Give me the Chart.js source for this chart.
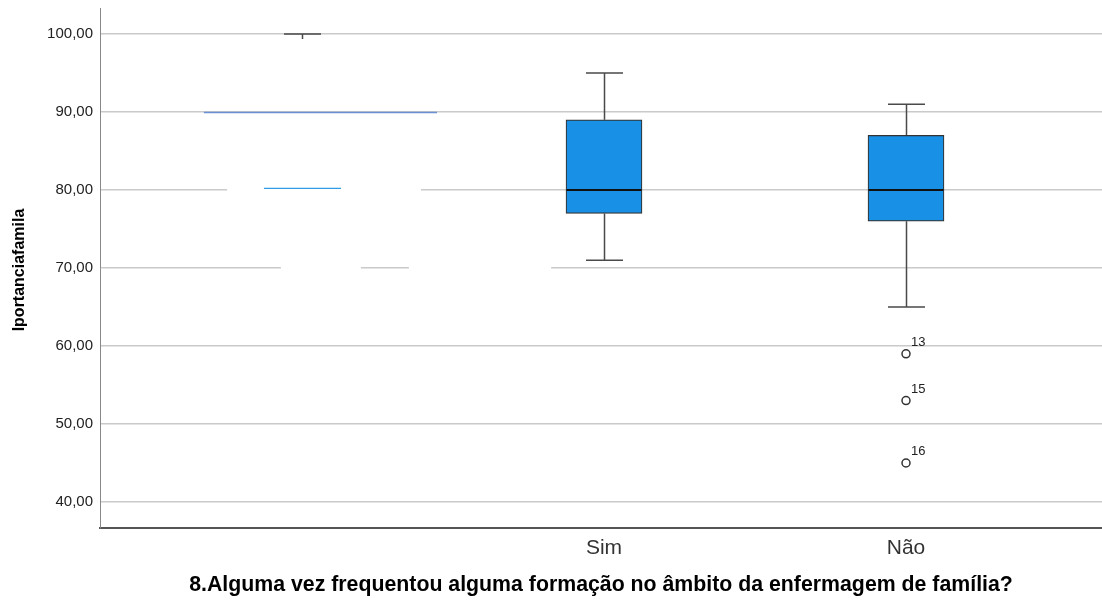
<!DOCTYPE html>
<html>
<head>
<meta charset="utf-8">
<script src="https://cdn.jsdelivr.net/npm/chart.js@4.4.1/dist/chart.umd.min.js"></script>
<style>
  html, body { margin: 0; padding: 0; background: #fff; }
  #wrap { width: 1102px; height: 601px; }
</style>
</head>
<body>
<div id="wrap"><canvas id="boxChart" width="1102" height="601"></canvas></div>
<script>
// categorias e estatísticas das caixas
const categories = ['', 'Sim', 'Não'];
const categoryPos = [1, 2, 3];
const whiskerLow = [null, 71, 65];
const q1 = [null, 77, 76];
const median = [null, 80, 80];
const q3 = [null, 89, 87];
const whiskerHigh = [100, 95, 91];

// outliers (Não)
const outlierGroup = [3, 3, 3];
const outlierValues = [59, 53, 45];
const outlierCases = ['13', '15', '16'];

// marcas soltas do primeiro grupo (valor y, de x, até x)
const fragY = [90, 80.25, 80, 70, 70];
const fragFrom = [0.675, 0.874, 0.752, 0.930, 1.354];
const fragTo = [1.447, 1.129, 1.394, 1.195, 1.825];

const yTicks = [40, 50, 60, 70, 80, 90, 100];
const yTitle = 'Iportanciafamila';
const xTitle = '8.Alguma vez frequentou alguma formação no âmbito da enfermagem de família?';

const fragStyle = [
    { color: '#6b8fd3', width: 1.5 },
    { color: '#2f9ce8', width: 1.5 },
    { color: '#ffffff', width: 3 },
    { color: '#ffffff', width: 3 },
    { color: '#ffffff', width: 3 }
];

const boxData = categoryPos.map((x, i) => q1[i] == null ? null : { x: x, y: [q1[i], q3[i]] }).filter(d => d);
const outlierData = outlierValues.map((v, i) => ({ x: outlierGroup[i], y: v }));

const boxPlugin = {
    id: 'boxExtras',
    beforeDatasetsDraw(chart) {
        const ctx = chart.ctx;
        const xs = chart.scales.x, ys = chart.scales.y;
        ctx.save();
        // fragmentos / falhas do 1º grupo
        fragY.forEach((v, i) => {
            ctx.strokeStyle = fragStyle[i].color;
            ctx.lineWidth = fragStyle[i].width;
            ctx.beginPath();
            const y = Math.round(ys.getPixelForValue(v)) + 0.5;
            ctx.moveTo(xs.getPixelForValue(fragFrom[i]), y);
            ctx.lineTo(xs.getPixelForValue(fragTo[i]), y);
            ctx.stroke();
        });
        // bigodes
        ctx.strokeStyle = '#4a4a4a';
        ctx.lineWidth = 1.5;
        categoryPos.forEach((x, i) => {
            const px = Math.round(xs.getPixelForValue(x)) + 0.5;
            const half = 18.5;
            const hi = ys.getPixelForValue(whiskerHigh[i]);
            ctx.beginPath();
            ctx.moveTo(px - half, hi);
            ctx.lineTo(px + half, hi);
            if (q3[i] != null) {
                ctx.moveTo(px, hi);
                ctx.lineTo(px, ys.getPixelForValue(q3[i]));
                const lo = ys.getPixelForValue(whiskerLow[i]);
                ctx.moveTo(px, ys.getPixelForValue(q1[i]));
                ctx.lineTo(px, lo);
                ctx.moveTo(px - half, lo);
                ctx.lineTo(px + half, lo);
            } else {
                ctx.moveTo(px, hi);
                ctx.lineTo(px, hi + 5);
            }
            ctx.stroke();
        });
        ctx.restore();
    },
    afterDatasetsDraw(chart) {
        const ctx = chart.ctx;
        const xs = chart.scales.x, ys = chart.scales.y;
        ctx.save();
        // medianas
        ctx.strokeStyle = '#111';
        ctx.lineWidth = 2.2;
        categoryPos.forEach((x, i) => {
            if (median[i] == null) return;
            const px = xs.getPixelForValue(x);
            const py = ys.getPixelForValue(median[i]);
            ctx.beginPath();
            ctx.moveTo(px - 37.5, py);
            ctx.lineTo(px + 37.5, py);
            ctx.stroke();
        });
        // números dos casos
        ctx.fillStyle = '#222';
        ctx.font = '13px "Liberation Sans", Arial, sans-serif';
        ctx.textAlign = 'left';
        ctx.textBaseline = 'alphabetic';
        outlierValues.forEach((v, i) => {
            const px = xs.getPixelForValue(outlierGroup[i]);
            const py = ys.getPixelForValue(v);
            ctx.fillText(outlierCases[i], px + 5, py - 8);
        });
        // títulos dos eixos
        ctx.fillStyle = '#000';
        ctx.font = 'bold 21.3px "Liberation Sans", Arial, sans-serif';
        ctx.textAlign = 'center';
        ctx.textBaseline = 'middle';
        ctx.fillText(xTitle, (chart.chartArea.left + chart.chartArea.right) / 2, 585);
        ctx.translate(20, 270);
        ctx.rotate(-Math.PI / 2);
        ctx.font = 'bold 16px "Liberation Sans", Arial, sans-serif';
        ctx.fillText(yTitle, 0, 0);
        ctx.restore();
    }
};

const ctx = document.getElementById('boxChart').getContext('2d');
const boxChart = new Chart(ctx, {
    data: {
        datasets: [{
            type: 'bar',
            data: boxData,
            backgroundColor: '#1890e6',
            borderColor: '#333',
            borderWidth: 1.2,
            borderSkipped: false,
            barThickness: 76
        }, {
            type: 'scatter',
            data: outlierData,
            pointStyle: 'circle',
            pointRadius: 4,
            pointBackgroundColor: '#fff',
            pointBorderColor: '#333',
            pointBorderWidth: 1.5
        }]
    },
    options: {
        responsive: false,
        animation: false,
        layout: { autoPadding: false, padding: { top: 8, left: 0, right: 0, bottom: 0 } },
        plugins: { legend: { display: false }, tooltip: { enabled: false } },
        scales: {
            x: {
                type: 'linear',
                offset: false,
                min: 2 - 504 / 302,
                max: 3 + 196 / 302,
                afterBuildTicks: s => { s.ticks = categoryPos.map(v => ({ value: v })); },
                afterFit: s => { s.height = 73; s.paddingLeft = 0; s.paddingRight = 0; },
                ticks: {
                    callback: v => categories[categoryPos.indexOf(v)] ?? '',
                    color: '#333',
                    font: { family: '"Liberation Sans", Arial, sans-serif', size: 21 },
                    padding: 8,
                    maxRotation: 0,
                    autoSkip: false
                },
                grid: { display: false, drawTicks: false },
                border: { color: '#555', width: 2 }
            },
            y: {
                min: 40 - 26 / 7.8,
                max: 100 + 26 / 7.8,
                afterBuildTicks: s => { s.ticks = yTicks.map(v => ({ value: v })); },
                afterFit: s => { s.width = 100; s.paddingTop = 0; s.paddingBottom = 0; },
                ticks: {
                    callback: v => v.toFixed(2).replace('.', ','),
                    color: '#222',
                    font: { family: '"Liberation Sans", Arial, sans-serif', size: 15 },
                    padding: 7
                },
                grid: { color: '#cacaca', lineWidth: 1.5, drawTicks: false },
                border: { color: '#888', width: 1 }
            }
        }
    },
    plugins: [boxPlugin]
});
</script>
</body>
</html>
